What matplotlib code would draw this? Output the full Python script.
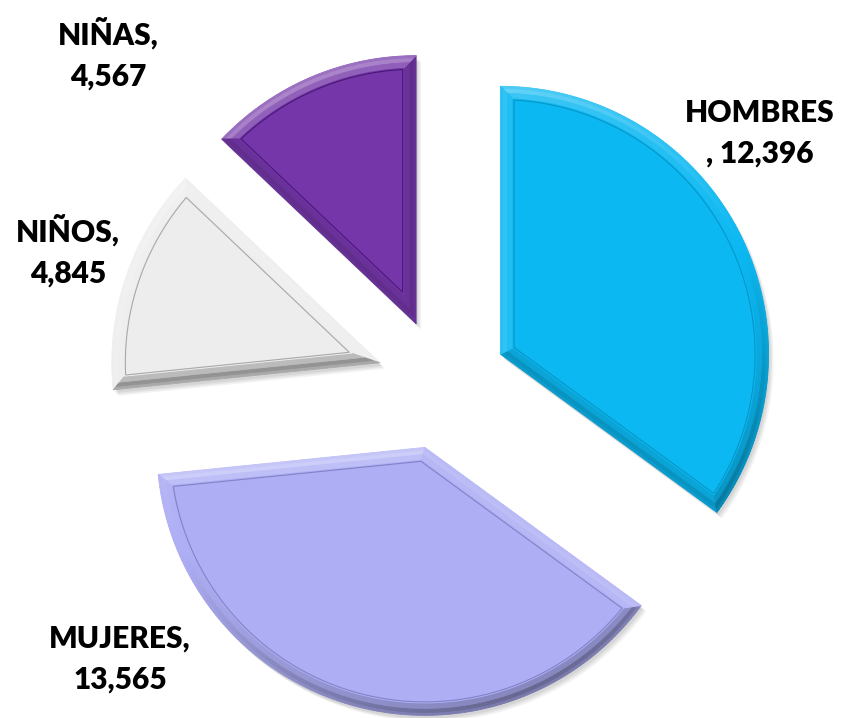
import numpy as np
import matplotlib
matplotlib.use("Agg")
import matplotlib.pyplot as plt
from matplotlib.patches import Polygon
from matplotlib.collections import PolyCollection
from matplotlib.colors import to_rgb

categories = ["HOMBRES", "MUJERES", "NIÑOS", "NIÑAS"]
values = [12396, 13565, 4845, 4567]
labels = ["HOMBRES\n, 12,396", "MUJERES,\n13,565", "NIÑOS,\n4,845", "NIÑAS,\n4,567"]

face_colors = ["#0BB8F2", "#AEAEF5", "#EDEDED", "#7436A8"]
line_colors = ["#0895C8", "#8282C8", "#A8A8A8", "#4A1878"]
label_pos = [(760, 133), (120, 659), (68, 251), (108, 54)]

W, H = 846, 718
fig = plt.figure(figsize=(W / 100, H / 100), dpi=100)
ax = fig.add_axes([0, 0, 1, 1])

R = 268
cx, cy = 442, H - 384
explode_frac = 0.245

wedges, _ = ax.pie(values, startangle=90, counterclock=False, radius=R,
                   center=(cx, cy), explode=[explode_frac * R] * len(values),
                   colors=face_colors,
                   wedgeprops=dict(edgecolor="none", linewidth=0))
for w in wedges:
    w.set_zorder(1)

ax.set_xlim(0, W)
ax.set_ylim(0, H)
ax.set_aspect("equal")
ax.axis("off")


def inset_poly(w, d, n=160):
    C = np.array(w.center)
    r = w.r
    t1, t2 = np.deg2rad(w.theta1), np.deg2rad(w.theta2)
    phi = t2 - t1
    rho = r - d
    da = np.arcsin(d / rho) if d > 0 else 0.0
    ang = np.linspace(t1 + da, t2 - da, n)
    arc = np.c_[C[0] + rho * np.cos(ang), C[1] + rho * np.sin(ang)]
    mid = (t1 + t2) / 2
    apex = C + (d / np.sin(phi / 2)) * np.array([np.cos(mid), np.sin(mid)])
    return np.vstack([apex, arc])


light = np.array([-0.4, 0.92])
light /= np.linalg.norm(light)
BEVEL = 12
sub_insets = [0, 3, 7, BEVEL]
sub_gain = [0.75, 1.0, 0.55]


def shade(base, s):
    b = np.array(to_rgb(base))
    if s >= 0:
        return np.clip(b + (1 - b) * 0.4 * s, 0, 1)
    return np.clip(b * (1 + 0.4 * s), 0, 1)


for i, w in enumerate(wedges):
    outer0 = inset_poly(w, 0)
    for k, a in enumerate([0.06, 0.06, 0.05]):
        ax.add_patch(Polygon(outer0 + np.array([2 + k * 1.5, -3 - k * 1.5]), closed=True,
                             facecolor="black", alpha=a, edgecolor="none", zorder=0.5))
    quads, cols = [], []
    for s_idx in range(len(sub_gain)):
        outer = inset_poly(w, sub_insets[s_idx])
        inner = inset_poly(w, sub_insets[s_idx + 1])
        m = len(outer)
        for j in range(m):
            p0, p1 = outer[j], outer[(j + 1) % m]
            q0, q1 = inner[j], inner[(j + 1) % m]
            dvec = p1 - p0
            nrm = np.array([dvec[1], -dvec[0]])
            ln = np.linalg.norm(nrm)
            if ln == 0:
                continue
            nrm /= ln
            s = float(nrm @ light) * sub_gain[s_idx]
            c = shade(face_colors[i], s)
            quads.append([p0, p1, q1, q0])
            cols.append(c)
    pc = PolyCollection(quads, facecolors=cols, edgecolors=cols, linewidths=0.6, zorder=2)
    ax.add_collection(pc)
    inner = inset_poly(w, BEVEL)
    ax.add_patch(Polygon(inner, closed=True, facecolor=face_colors[i],
                         edgecolor="none", zorder=3))
    ax.add_patch(Polygon(inset_poly(w, BEVEL + 1.5), closed=True, facecolor="none",
                         edgecolor=line_colors[i], linewidth=0.8, zorder=4))

for lab, (x, y) in zip(labels, label_pos):
    ax.text(x, H - y, lab, ha="center", va="center", fontsize=21.5, fontweight="heavy",
            family=["Lato", "DejaVu Sans"], color="black", linespacing=1.55)

fig.savefig("out.png", dpi=100)
